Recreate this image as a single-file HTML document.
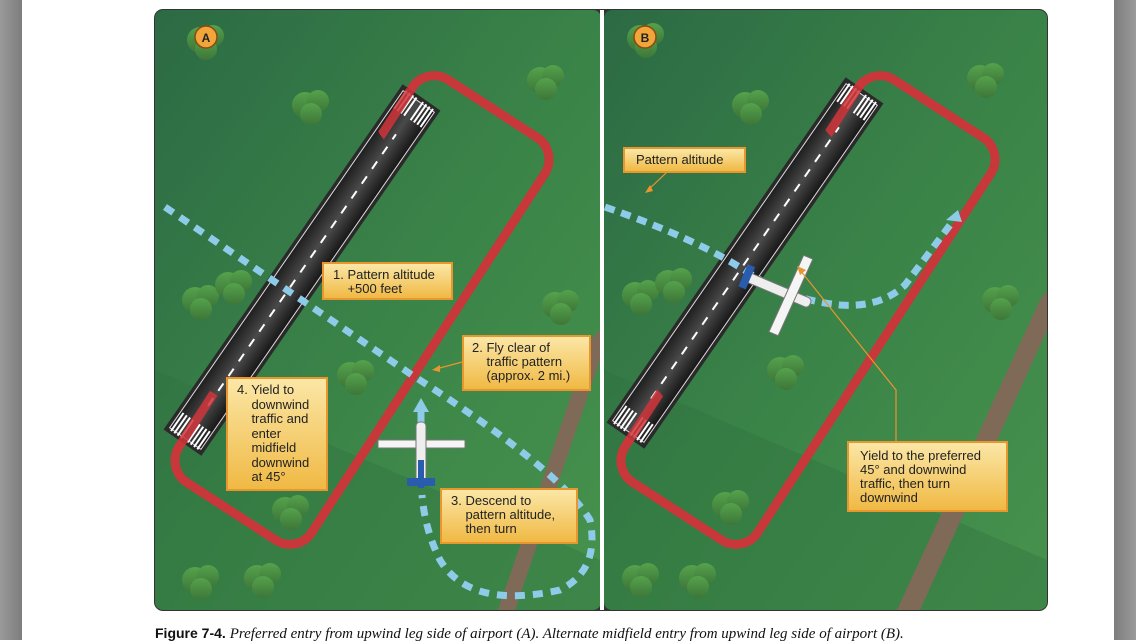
<!DOCTYPE html>
<html><head><meta charset="utf-8"><style>
html,body{margin:0;padding:0;background:#fff;}
body{width:1136px;height:640px;overflow:hidden;position:relative;font-family:"Liberation Sans",sans-serif;}
.lb{position:absolute;background:linear-gradient(#fbe7a6,#f0b944);border:2px solid #e8962e;font-size:13px;line-height:14px;color:#222;box-sizing:border-box;}
</style></head><body>
<div style="position:absolute;left:0;top:0;width:22px;height:640px;background:linear-gradient(90deg,#9a9a9a,#7d7d7d)"></div>
<div style="position:absolute;right:0;top:0;width:22px;height:640px;background:linear-gradient(90deg,#7d7d7d,#9a9a9a)"></div>
<svg width="1136" height="640" style="position:absolute;left:0;top:0">
<defs>
<linearGradient id="gr" x1="0" y1="0" x2="1" y2="1"><stop offset="0" stop-color="#2c6a44"/><stop offset="0.5" stop-color="#3a8348"/><stop offset="1" stop-color="#47924d"/></linearGradient>
<linearGradient id="tr" x1="0" y1="0" x2="0" y2="1"><stop offset="0" stop-color="#55a24c"/><stop offset="1" stop-color="#3d7638"/></linearGradient>
<linearGradient id="rw" x1="0" y1="0" x2="0" y2="1"><stop offset="0" stop-color="#1e1e1e"/><stop offset="0.5" stop-color="#4a4a4a"/><stop offset="1" stop-color="#161616"/></linearGradient>
<clipPath id="ca"><rect x="155" y="10" width="446" height="600" rx="8"/></clipPath>
<clipPath id="cb"><rect x="604" y="10" width="443" height="600" rx="8"/></clipPath>
<clipPath id="ta"><circle cx="405" cy="118" r="30"/><circle cx="197" cy="418" r="30"/></clipPath>
<clipPath id="tb"><circle cx="850" cy="113" r="30"/><circle cx="638" cy="413" r="30"/></clipPath>
<g id="runway">
<rect x="-210" y="-23" width="420" height="46" fill="#2a2a2a"/>
<rect x="-205" y="-19" width="410" height="38" fill="url(#rw)" stroke="#ddd" stroke-width="1"/>
<line x1="-165" y1="0" x2="165" y2="0" stroke="#fff" stroke-width="2" stroke-dasharray="9,9"/>
<g stroke="#fff" stroke-width="2">
<line x1="-207" y1="-16" x2="-185" y2="-16"/><line x1="-207" y1="-12" x2="-185" y2="-12"/><line x1="-207" y1="-8" x2="-185" y2="-8"/><line x1="-207" y1="-4" x2="-185" y2="-4"/>
<line x1="-207" y1="4" x2="-185" y2="4"/><line x1="-207" y1="8" x2="-185" y2="8"/><line x1="-207" y1="12" x2="-185" y2="12"/><line x1="-207" y1="16" x2="-185" y2="16"/>
<line x1="185" y1="-16" x2="207" y2="-16"/><line x1="185" y1="-12" x2="207" y2="-12"/><line x1="185" y1="-8" x2="207" y2="-8"/><line x1="185" y1="-4" x2="207" y2="-4"/>
<line x1="185" y1="4" x2="207" y2="4"/><line x1="185" y1="8" x2="207" y2="8"/><line x1="185" y1="12" x2="207" y2="12"/><line x1="185" y1="16" x2="207" y2="16"/>
</g>
</g>
<g id="tree"><circle cx="0" cy="0" r="13" fill="url(#tr)"/><circle cx="13" cy="-4" r="11" fill="url(#tr)"/><circle cx="6" cy="9" r="11" fill="url(#tr)"/></g>
</defs>
<rect x="154" y="9" width="894" height="602" rx="9" fill="#333"/>
<g clip-path="url(#ca)">
<rect x="155" y="10" width="446" height="600" fill="url(#gr)"/>
<polygon points="155,370 600,560 600,610 155,610" fill="#2f7040" opacity="0.35"/>
<polygon points="590,340 600,330 600,360 515,610 498,610" fill="#7f6a58"/>
<use href="#tree" x="200" y="40"/><use href="#tree" x="305" y="105"/><use href="#tree" x="540" y="80"/><use href="#tree" x="195" y="300"/><use href="#tree" x="228" y="285"/><use href="#tree" x="350" y="375"/><use href="#tree" x="555" y="305"/><use href="#tree" x="285" y="510"/><use href="#tree" x="257" y="578"/><use href="#tree" x="195" y="580"/>
<g transform="translate(362,310) rotate(-57)"><rect x="-240" y="-79" width="480" height="158" rx="26" fill="none" stroke="#c8373a" stroke-width="9"/></g>
<g transform="translate(302,270) rotate(-55.3)"><use href="#runway"/></g>
<g clip-path="url(#ta)" opacity="0.85"><g transform="translate(362,310) rotate(-57)"><rect x="-240" y="-79" width="480" height="158" rx="26" fill="none" stroke="#d0353a" stroke-width="9"/></g></g>
<path d="M165,207 L412,375 Q560,470 590,520 Q600,570 560,590 Q470,610 440,560 Q425,530 422,495" fill="none" stroke="#8ecbe8" stroke-width="7" stroke-dasharray="10,8"/>
<line x1="421" y1="432" x2="421" y2="410" stroke="#8ecbe8" stroke-width="7"/><polygon points="413,412 429,412 421,398" fill="#8ecbe8"/>
<g>
<path d="M378,440 L465,440 L465,448 L378,448 Z" fill="#f5f5f5" stroke="#777"/>
<rect x="416" y="422" width="10" height="60" rx="4" fill="#eee" stroke="#777"/>
<path d="M407,478 L435,478 L435,486 L407,486 Z" fill="#2a5cad"/>
<rect x="418" y="460" width="6" height="28" fill="#2a5cad"/>
</g>
<line x1="466" y1="361" x2="436" y2="369" stroke="#e8962e" stroke-width="1.2"/><polygon points="432,370 440,365 440,372" fill="#e8962e"/>
<circle cx="206" cy="37" r="11" fill="#f2a53a" stroke="#8a4a10" stroke-width="1.5"/>
<text x="206" y="42" text-anchor="middle" font-family="Liberation Sans" font-weight="bold" font-size="12" fill="#222">A</text>
</g>
<g clip-path="url(#cb)">
<rect x="604" y="10" width="443" height="600" fill="url(#gr)"/>
<polygon points="604,370 1047,560 1047,610 604,610" fill="#2f7040" opacity="0.35"/>
<polygon points="1040,300 1047,290 1047,330 920,610 897,610" fill="#7f6a58"/>
<use href="#tree" x="640" y="38"/><use href="#tree" x="745" y="105"/><use href="#tree" x="980" y="78"/><use href="#tree" x="635" y="295"/><use href="#tree" x="668" y="283"/><use href="#tree" x="780" y="370"/><use href="#tree" x="995" y="300"/><use href="#tree" x="725" y="505"/><use href="#tree" x="692" y="578"/><use href="#tree" x="635" y="578"/>
<g transform="translate(808,310) rotate(-57)"><rect x="-240" y="-79" width="480" height="158" rx="26" fill="none" stroke="#c8373a" stroke-width="9"/></g>
<g transform="translate(745,263) rotate(-55.3)"><use href="#runway"/></g>
<g clip-path="url(#tb)" opacity="0.85"><g transform="translate(808,310) rotate(-57)"><rect x="-240" y="-79" width="480" height="158" rx="26" fill="none" stroke="#d0353a" stroke-width="9"/></g></g>
<path d="M605,207 Q700,240 752,275 Q790,300 840,305 Q880,308 905,285 L950,225" fill="none" stroke="#8ecbe8" stroke-width="7" stroke-dasharray="10,7"/>
<polygon points="946,220 962,222 958,210" fill="#8ecbe8"/>
<g transform="translate(778,290) rotate(23)">
<rect x="-35" y="-5" width="70" height="10" rx="4" fill="#eee" stroke="#777"/>
<path d="M10,-42 L20,-42 L18,42 L8,42 Z" fill="#f5f5f5" stroke="#777"/>
<rect x="-38" y="-12" width="8" height="24" fill="#2a5cad"/>
</g>
<polyline points="666,152 666,173 648,190" fill="none" stroke="#e8962e" stroke-width="1.2"/><polygon points="645,193 650,185 653,191" fill="#e8962e"/>
<polyline points="896,442 896,390 800,270" fill="none" stroke="#e8962e" stroke-width="1.2"/><polygon points="797,266 806,270 800,275" fill="#e8962e"/>
<circle cx="645" cy="37" r="11" fill="#f2a53a" stroke="#8a4a10" stroke-width="1.5"/>
<text x="645" y="42" text-anchor="middle" font-family="Liberation Sans" font-weight="bold" font-size="12" fill="#222">B</text>
</g>
<rect x="600" y="10" width="4" height="600" fill="#fff"/>
</svg>
<div class="lb" style="left:322px;top:262px;width:131px;height:38px;padding:4px 0 0 9px">1. Pattern altitude<br>&nbsp;&nbsp;&nbsp;&nbsp;+500 feet</div>
<div class="lb" style="left:462px;top:335px;width:129px;height:56px;padding:4px 0 0 8px">2. Fly clear of<br>&nbsp;&nbsp;&nbsp;&nbsp;traffic pattern<br>&nbsp;&nbsp;&nbsp;&nbsp;(approx. 2 mi.)</div>
<div class="lb" style="left:226px;top:377px;width:102px;height:114px;padding:4px 0 0 9px;line-height:14.5px">4. Yield to<br>&nbsp;&nbsp;&nbsp;&nbsp;downwind<br>&nbsp;&nbsp;&nbsp;&nbsp;traffic and<br>&nbsp;&nbsp;&nbsp;&nbsp;enter<br>&nbsp;&nbsp;&nbsp;&nbsp;midfield<br>&nbsp;&nbsp;&nbsp;&nbsp;downwind<br>&nbsp;&nbsp;&nbsp;&nbsp;at 45°</div>
<div class="lb" style="left:440px;top:488px;width:138px;height:56px;padding:4px 0 0 9px">3. Descend to<br>&nbsp;&nbsp;&nbsp;&nbsp;pattern altitude,<br>&nbsp;&nbsp;&nbsp;&nbsp;then turn</div>
<div class="lb" style="left:623px;top:147px;width:123px;height:26px;padding:4px 0 0 11px">Pattern altitude</div>
<div class="lb" style="left:847px;top:441px;width:161px;height:71px;padding:6px 0 0 11px">Yield to the preferred<br>45° and downwind<br>traffic, then turn<br>downwind</div>
<div style="position:absolute;left:155px;top:625px;font-size:14px;white-space:nowrap;color:#111"><b style="font-family:'Liberation Sans',sans-serif">Figure 7-4.</b> <i style="font-family:'Liberation Serif',serif;font-size:15px">Preferred entry from upwind leg side of airport (A). Alternate midfield entry from upwind leg side of airport (B).</i></div>
</body></html>
